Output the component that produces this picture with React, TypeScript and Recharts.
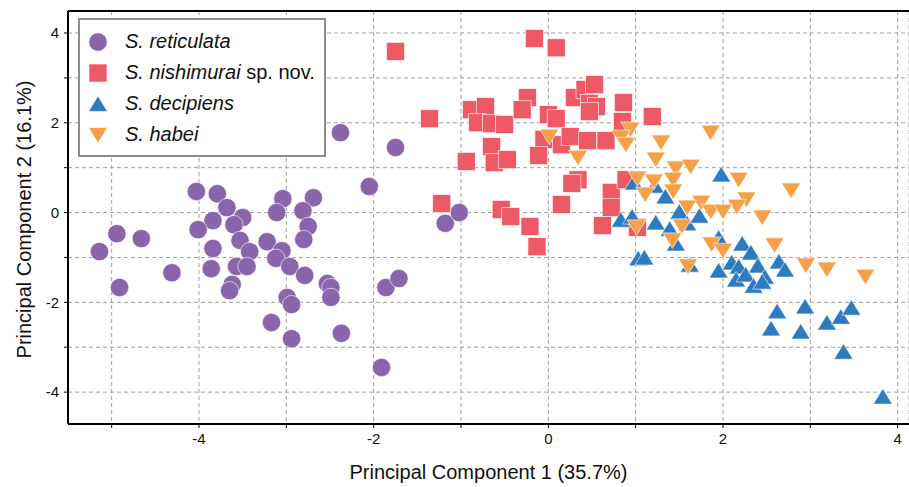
import {
  ScatterChart, Scatter, XAxis, YAxis, CartesianGrid, ReferenceLine, Legend,
} from "recharts";

// PCA scores: [PC1, PC2]
const reticulata: [number, number][] = [
  [-5.14, -0.87], [-4.94, -0.47], [-4.66, -0.58], [-4.91, -1.67], [-4.31, -1.34],
  [-4.03, 0.47], [-3.79, 0.42], [-3.68, 0.11], [-3.5, -0.11], [-3.84, -0.18],
  [-3.6, -0.27], [-4.01, -0.38], [-3.53, -0.62], [-3.42, -0.87], [-3.84, -0.8],
  [-3.22, -0.65], [-3.04, 0.31], [-3.11, 0], [-2.69, 0.33], [-2.81, 0.04],
  [-2.75, -0.31], [-2.8, -0.6], [-3.05, -0.85], [-3.12, -1.02], [-2.96, -1.2],
  [-2.79, -1.4], [-3.86, -1.25], [-3.57, -1.2], [-3.45, -1.2], [-3.62, -1.6],
  [-3.65, -1.74], [-2.99, -1.89], [-2.94, -2.05], [-3.17, -2.45], [-2.94, -2.81],
  [-2.53, -1.58], [-2.49, -1.67], [-2.49, -1.89], [-2.37, -2.69], [-2.38, 1.78],
  [-1.75, 1.45], [-2.05, 0.58], [-1.18, -0.24], [-1.02, 0], [-1.86, -1.67],
  [-1.71, -1.47], [-1.91, -3.45],
];

const nishimurai: [number, number][] = [
  [-1.75, 3.59], [-0.16, 3.88], [0.09, 3.67], [-1.36, 2.09], [-0.88, 2.29],
  [-0.72, 2.36], [-0.81, 2.0], [-0.65, 1.98], [-0.5, 1.96], [-0.24, 2.56],
  [-0.3, 2.29], [0.0, 2.18], [0.09, 2.09], [-0.05, 1.63], [-0.11, 1.27],
  [0.15, 1.51], [0.25, 1.69], [0.45, 1.6], [0.66, 1.6], [0.3, 2.56],
  [0.42, 2.74], [0.53, 2.85], [0.47, 2.43], [0.55, 2.36], [0.47, 2.25],
  [0.86, 2.45], [0.85, 2.03], [1.19, 2.14], [-0.65, 1.47], [-0.94, 1.14],
  [-0.62, 1.11], [-0.47, 1.18], [0.34, 0.73], [0.27, 0.65], [0.15, 0.18],
  [0.72, 0.45], [0.72, 0.11], [0.62, -0.29], [1.02, -0.33], [0.89, 0.73],
  [-1.22, 0.2], [-0.54, 0.07], [-0.43, -0.09], [-0.21, -0.31], [-0.13, -0.76],
];

const decipiens: [number, number][] = [
  [1.98, 0.85], [0.98, 0.67], [1.22, 0.6], [1.34, 0.36], [0.83, -0.16],
  [0.96, -0.09], [1.23, -0.22], [1.5, 0.02], [1.59, -0.24], [1.73, -0.07],
  [1.39, -0.36], [1.46, -0.69], [1.03, -1.02], [1.1, -1.0], [1.62, -1.16],
  [1.95, -0.56], [1.95, -1.29], [2.22, -0.69], [2.32, -0.89], [2.1, -1.11],
  [2.18, -1.2], [2.15, -1.49], [2.26, -1.38], [2.4, -1.18], [2.48, -1.43],
  [2.35, -1.63], [2.45, -1.54], [2.64, -1.09], [2.71, -1.27], [2.62, -2.2],
  [2.94, -2.09], [2.55, -2.58], [2.89, -2.65], [3.19, -2.45], [3.35, -2.32],
  [3.47, -2.12], [3.38, -3.1], [3.83, -4.1],
];

const habei: [number, number][] = [
  [0.01, 1.69], [0.34, 1.22], [0.94, 1.85], [0.83, 1.67], [0.89, 1.51],
  [1.86, 1.78], [1.29, 1.56], [1.23, 1.18], [1.46, 0.98], [1.63, 1.02],
  [2.18, 0.73], [1.02, 0.76], [1.21, 0.69], [1.43, 0.73], [1.11, 0.4],
  [1.43, 0.47], [2.78, 0.49], [1.75, 0.22], [2.27, 0.29], [2.16, 0.13],
  [1.59, 0.11], [1.86, 0.02], [2.0, 0.02], [2.45, -0.11], [1.01, -0.33],
  [1.53, -0.31], [1.42, -0.62], [1.87, -0.71], [2.0, -0.85], [2.59, -0.73],
  [1.6, -1.2], [2.95, -1.18], [3.19, -1.27], [3.63, -1.43],
];

const xTicks = [-5, -4, -3, -2, -1, 0, 1, 2, 3, 4];
const yTicks = [-4, -3, -2, -1, 0, 1, 2, 3, 4];
const X_DOMAIN: [number, number] = [-5.5, 4.13];
const Y_DOMAIN: [number, number] = [-4.71, 4.49];

const PURPLE = "#8965ab";
const RED = "#ed5a65";
const BLUE = "#2f7bc0";
const ORANGE = "#f6a14a";
const FONT = "'Liberation Sans', Arial, Helvetica, sans-serif";

const toPts = (arr: [number, number][]) => arr.map(([x, y]) => ({ x, y }));

type Kind = "circle" | "square" | "up" | "down";

function Marker({ kind, cx, cy, fill }: { kind: Kind; cx: number; cy: number; fill: string }) {
  const common = { fill, stroke: "#ffffff", strokeWidth: 0.6 };
  if (kind === "circle") return <circle cx={cx} cy={cy} r={9.2} {...common} />;
  if (kind === "square") return <rect x={cx - 9} y={cy - 9} width={18} height={18} {...common} />;
  if (kind === "up")
    return <polygon points={`${cx},${cy - 8} ${cx - 9.5},${cy + 7.5} ${cx + 9.5},${cy + 7.5}`} {...common} />;
  return <polygon points={`${cx},${cy + 8} ${cx - 9.5},${cy - 7.5} ${cx + 9.5},${cy - 7.5}`} {...common} />;
}

const shapeOf = (kind: Kind, fill: string) => (p: any) =>
  <Marker kind={kind} cx={p.cx} cy={p.cy} fill={fill} />;

const legendItems: { kind: Kind; color: string; name: string; extra?: string }[] = [
  { kind: "circle", color: PURPLE, name: "S. reticulata" },
  { kind: "square", color: RED, name: "S. nishimurai", extra: " sp. nov." },
  { kind: "up", color: BLUE, name: "S. decipiens" },
  { kind: "down", color: ORANGE, name: "S. habei" },
];

function LegendBox() {
  return (
    <div
      style={{
        boxSizing: "border-box", width: 248, height: 139, background: "#fff",
        border: "2px solid #8c8c8c", paddingTop: 6, fontFamily: FONT, fontSize: 20, color: "#111",
      }}
    >
      {legendItems.map((it) => (
        <div key={it.name} style={{ display: "flex", alignItems: "center", height: 31 }}>
          <svg width={22} height={22} style={{ marginLeft: 7, flex: "none" }}>
            <Marker kind={it.kind} cx={11} cy={11} fill={it.color} />
          </svg>
          <span style={{ marginLeft: 16, whiteSpace: "nowrap" }}>
            <i>{it.name}</i>{it.extra}
          </span>
        </div>
      ))}
    </div>
  );
}

const tickFmt = (v: number) => (v % 2 === 0 ? String(v) : "");

export default function App() {
  return (
    <div style={{ position: "absolute", left: 0, top: 0, background: "#fff" }}>
      <ScatterChart width={909} height={487} margin={{ top: 11, right: 0, bottom: 0, left: 0 }}>
        <CartesianGrid stroke="#a0a0a0" strokeDasharray="4 3" />
        <XAxis
          type="number" dataKey="x" domain={X_DOMAIN} ticks={xTicks} interval={0}
          allowDataOverflow height={63} tickFormatter={tickFmt} tickSize={4} tickMargin={5}
          axisLine={{ stroke: "#000", strokeWidth: 2 }} tickLine={{ stroke: "#000" }}
          tick={{ fill: "#111", fontSize: 15, fontFamily: FONT }}
          label={{
            content: ({ viewBox }: any) => (
              <text x={viewBox.x + viewBox.width / 2} y={viewBox.y + 55} textAnchor="middle"
                fontSize={20} fontFamily={FONT} fill="#111">
                Principal Component 1 (35.7%)
              </text>
            ),
          }}
        />
        <YAxis
          type="number" dataKey="y" domain={Y_DOMAIN} ticks={yTicks} interval={0}
          allowDataOverflow width={68} tickFormatter={tickFmt} tickSize={4} tickMargin={5}
          axisLine={{ stroke: "#000", strokeWidth: 2 }} tickLine={{ stroke: "#000" }}
          tick={{ fill: "#111", fontSize: 15, fontFamily: FONT }}
          label={{
            content: ({ viewBox }: any) => (
              <text transform={`translate(31,${viewBox.y + viewBox.height / 2 + 2}) rotate(-90)`}
                textAnchor="middle" fontSize={20} fontFamily={FONT} fill="#111">
                Principal Component 2 (16.1%)
              </text>
            ),
          }}
        />
        <ReferenceLine y={Y_DOMAIN[1]} stroke="#000" strokeWidth={2} ifOverflow="visible" />
        <Scatter name="S. reticulata" data={toPts(reticulata)} shape={shapeOf("circle", PURPLE)} isAnimationActive={false} />
        <Scatter name="S. nishimurai" data={toPts(nishimurai)} shape={shapeOf("square", RED)} isAnimationActive={false} />
        <Scatter name="S. decipiens" data={toPts(decipiens)} shape={shapeOf("up", BLUE)} isAnimationActive={false} />
        <Scatter name="S. habei" data={toPts(habei)} shape={shapeOf("down", ORANGE)} isAnimationActive={false} />
        <Legend
          layout="vertical" align="center" verticalAlign="middle"
          wrapperStyle={{ left: 78, top: 18, width: 248, height: 139 }}
          content={() => <LegendBox />}
        />
      </ScatterChart>
    </div>
  );
}
